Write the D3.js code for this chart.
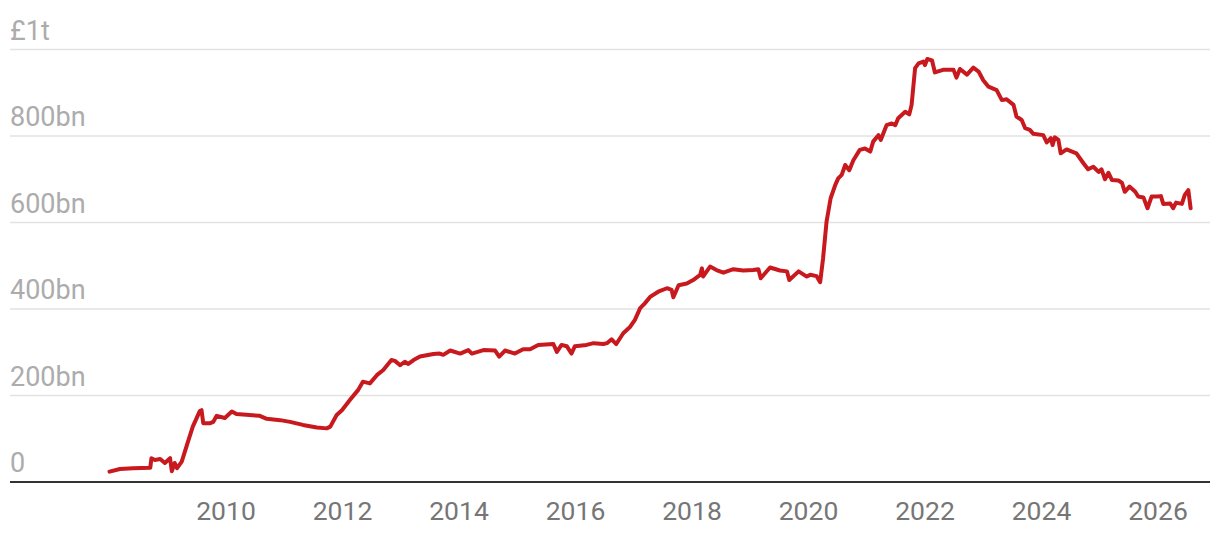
<!DOCTYPE html>
<html>
<head>
<meta charset="utf-8">
<script src="https://cdn.jsdelivr.net/npm/d3@7"></script>
<style>
  html, body { margin: 0; padding: 0; background: #fff; }
  svg { display: block; font-family: Roboto, "Noto Sans", sans-serif; }
</style>
</head>
<body>
<svg id="chart" width="1220" height="542"></svg>
<script>
// Decimal-year dates of traced points
const dates = [
  2008.00, 2008.18, 2008.40, 2008.70, 2008.72, 2008.78, 2008.87, 2008.95, 2009.04, 2009.07,
  2009.12, 2009.16, 2009.24, 2009.33, 2009.43, 2009.55, 2009.58, 2009.61, 2009.73, 2009.78,
  2009.84, 2009.98, 2010.10, 2010.18, 2010.58, 2010.70, 2010.93, 2011.10, 2011.32, 2011.56,
  2011.73, 2011.79, 2011.90, 2011.99, 2012.13, 2012.27, 2012.35, 2012.47, 2012.59, 2012.70,
  2012.84, 2012.90, 2012.99, 2013.07, 2013.13, 2013.22, 2013.33, 2013.56, 2013.67, 2013.73,
  2013.85, 2014.02, 2014.16, 2014.22, 2014.42, 2014.62, 2014.69, 2014.79, 2014.96, 2015.10,
  2015.22, 2015.36, 2015.62, 2015.68, 2015.76, 2015.85, 2015.93, 2015.99, 2016.19, 2016.31,
  2016.48, 2016.54, 2016.62, 2016.70, 2016.82, 2016.94, 2017.02, 2017.11, 2017.19, 2017.28,
  2017.42, 2017.57, 2017.65, 2017.68, 2017.77, 2017.91, 2018.02, 2018.14, 2018.17, 2018.19,
  2018.31, 2018.42, 2018.54, 2018.71, 2018.88, 2019.05, 2019.14, 2019.18, 2019.34, 2019.51,
  2019.63, 2019.67, 2019.83, 2019.97, 2020.03, 2020.14, 2020.20, 2020.25, 2020.31, 2020.38,
  2020.46, 2020.51, 2020.57, 2020.63, 2020.70, 2020.77, 2020.88, 2020.97, 2021.06, 2021.11,
  2021.20, 2021.24, 2021.34, 2021.43, 2021.49, 2021.54, 2021.66, 2021.73, 2021.77, 2021.83,
  2021.89, 2021.97, 2022.00, 2022.04, 2022.12, 2022.17, 2022.31, 2022.49, 2022.54, 2022.60,
  2022.72, 2022.83, 2022.92, 2023.00, 2023.09, 2023.23, 2023.32, 2023.40, 2023.52, 2023.57,
  2023.66, 2023.72, 2023.80, 2023.86, 2024.03, 2024.09, 2024.16, 2024.19, 2024.23, 2024.29,
  2024.33, 2024.43, 2024.60, 2024.72, 2024.80, 2024.89, 2024.98, 2025.03, 2025.09, 2025.15,
  2025.21, 2025.32, 2025.38, 2025.43, 2025.51, 2025.61, 2025.66, 2025.75, 2025.82, 2025.89,
  2025.98, 2026.05, 2026.09, 2026.21, 2026.26, 2026.31, 2026.41, 2026.46, 2026.52, 2026.56
];
// Values in £bn
const values = [
  24, 30, 32, 33, 55, 51, 53, 44, 55, 25,
  44, 32, 47, 86, 128, 164, 166, 136, 136, 139,
  153, 148, 163, 157, 153, 146, 143, 139, 132, 126,
  124, 128, 155, 166, 190, 213, 232, 228, 247, 259,
  282, 280, 270, 278, 273, 282, 290, 296, 297, 294,
  304, 297, 305, 297, 305, 304, 290, 304, 297, 307,
  307, 317, 319, 301, 317, 314, 297, 314, 317, 321,
  319, 321, 330, 319, 344, 359, 375, 402, 413, 428,
  440, 448, 444, 427, 455, 459, 467, 479, 494, 475,
  498, 490, 484, 492, 489, 490, 492, 471, 496, 489,
  487, 467, 487, 475, 479, 476, 462, 517, 602, 656,
  687, 702, 710, 733, 721, 744, 768, 771, 764, 787,
  802, 791, 825, 829, 825, 841, 856, 850, 872, 957,
  968, 972, 964, 978, 975, 947, 953, 953, 935, 955,
  942, 958, 949, 929, 914, 906, 883, 885, 872, 845,
  837, 818, 814, 805, 802, 785, 795, 779, 797, 791,
  760, 769, 760, 737, 723, 729, 717, 723, 700, 715,
  698, 697, 692, 671, 683, 671, 660, 658, 633, 660,
  660, 661, 643, 644, 633, 646, 643, 664, 675, 633
];
const yTicks = [0, 200, 400, 600, 800, 1000];
const yTickLabels = ["0", "200bn", "400bn", "600bn", "800bn", "£1t"];
const xTicks = [2010, 2012, 2014, 2016, 2018, 2020, 2022, 2024, 2026];
const xTickLabels = ["2010", "2012", "2014", "2016", "2018", "2020", "2022", "2024", "2026"];

const svg = d3.select("#chart");
const left = 10, right = 1210;

const x = d3.scaleLinear().domain([2010, 2026]).range([226, 1158]);
const y = d3.scaleLinear().domain([0, 1000]).range([482, 49.5]);

// gridlines
svg.append("g").selectAll("line")
  .data(yTicks.filter(d => d !== 0))
  .join("line")
  .attr("x1", left).attr("x2", right)
  .attr("y1", d => y(d)).attr("y2", d => y(d))
  .attr("stroke", "#e2e2e2").attr("stroke-width", 1.6);

// y labels
svg.append("g").selectAll("text")
  .data(yTicks)
  .join("text")
  .attr("x", left)
  .attr("y", d => y(d) - 10)
  .attr("fill", "#acacac")
  .attr("font-size", 27)
  .text((d, i) => yTickLabels[i]);

// x axis labels
svg.append("g").selectAll("text")
  .data(xTicks)
  .join("text")
  .attr("x", d => x(d))
  .attr("y", 520)
  .attr("text-anchor", "middle")
  .attr("fill", "#767676")
  .attr("font-size", 26.5)
  .text((d, i) => xTickLabels[i]);

// line
const pts = dates.map((d, i) => [d, values[i]]);
const line = d3.line().x(d => x(d[0])).y(d => y(d[1]));
svg.append("path")
  .datum(pts)
  .attr("d", line)
  .attr("fill", "none")
  .attr("stroke", "#c8191f")
  .attr("stroke-width", 4)
  .attr("stroke-linejoin", "round")
  .attr("stroke-linecap", "round");

// baseline
svg.append("line")
  .attr("x1", left).attr("x2", right)
  .attr("y1", y(0)).attr("y2", y(0))
  .attr("stroke", "#333").attr("stroke-width", 2);
</script>
</body>
</html>
